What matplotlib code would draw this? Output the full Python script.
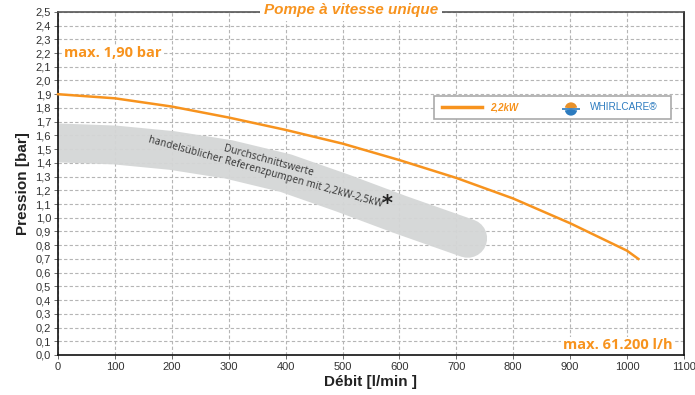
import numpy as np
import matplotlib.pyplot as plt
from matplotlib.patches import Rectangle, Wedge

# pump curve 2,2kW
flow = [0, 100, 200, 300, 400, 500, 600, 700, 800, 900, 1000, 1020]
pressure = [1.90, 1.87, 1.81, 1.73, 1.64, 1.54, 1.42, 1.29, 1.14, 0.96, 0.76, 0.70]

# average of reference pumps (band centre)
ref_flow = [0, 100, 200, 300, 400, 500, 600, 720]
ref_pressure = [1.545, 1.53, 1.49, 1.425, 1.325, 1.18, 1.025, 0.85]

xticks = np.arange(0, 1101, 100)
yticks = np.arange(0, 2.51, 0.1)
orange = '#f7931e'
W, H = 695, 395

fig = plt.figure(figsize=(6.95, 3.95), dpi=100)
ax = fig.add_axes([0.0835, 0.1013, 0.9005, 0.8687])
ax.set_xlim(0, 1100)
ax.set_ylim(0, 2.5)

ax.set_xticks(xticks)
ax.set_yticks(yticks)
ax.set_xticklabels([str(int(v)) for v in xticks], fontsize=8, color='#333333', family='Liberation Sans')
ax.set_yticklabels([('%.1f' % v).replace('.', ',') for v in yticks], fontsize=8, color='#333333', family='Liberation Sans')
ax.tick_params(length=3, width=0.6, color='#555555', pad=2)

ax.grid(True, linestyle=(0, (3, 2)), color='#b5b5b5', linewidth=0.8)
ax.set_axisbelow(True)
for s in ['left', 'bottom', 'right']:
    ax.spines[s].set_color('#111111')
    ax.spines[s].set_linewidth(1.2)
ax.spines['top'].set_color('#555555')
ax.spines['top'].set_linestyle((0, (3, 1)))
ax.spines['top'].set_linewidth(1.2)

# gray band
ax.plot(ref_flow, ref_pressure, color='#d4d6d6', linewidth=28, solid_capstyle='round',
        solid_joinstyle='round', alpha=0.95, zorder=2)
ax.text(367, 1.373, 'Durchschnittswerte\nhandelsüblicher Referenzpumpen mit 2,2kW-2,5kW',
        rotation=-15.5, rotation_mode='anchor', ha='center', va='center',
        fontsize=7.3, color='#333333', family='Open Sans', linespacing=1.1, zorder=3)
ax.text(578, 1.10, '*', fontsize=15, fontweight='bold', color='#222222',
        ha='center', va='center', zorder=3)

# pump curve
ax.plot(flow, pressure, color=orange, linewidth=1.8, zorder=4, clip_on=False)

# annotations
ax.text(10, 2.2, 'max. 1,90 bar', fontsize=10.5, fontweight='bold', color=orange,
        family='Open Sans', va='center', ha='left',
        bbox=dict(facecolor='white', edgecolor='none', pad=1))
ax.text(1080, 0.07, 'max. 61.200 l/h', fontsize=10.5, fontweight='bold', color=orange,
        family='Open Sans', va='center', ha='right',
        bbox=dict(facecolor='white', edgecolor='none', pad=1))

# title over top border
fig.text(0.505, 0.975, 'Pompe à vitesse unique', fontsize=11, fontweight='bold',
         style='italic', color=orange, family='Liberation Sans', ha='center', va='center',
         bbox=dict(facecolor='white', edgecolor='none', pad=3))

# legend box
ax.add_patch(Rectangle((660, 1.72), 418, 0.17, facecolor='white', edgecolor='#aaaaaa',
                       linewidth=1.2, zorder=5))
ax.plot([675, 745], [1.805, 1.805], color=orange, linewidth=2.5, zorder=6)
ax.text(760, 1.805, '2,2kW', fontsize=7, fontweight='bold', style='italic', color=orange,
        family='Liberation Sans', va='center', zorder=6)
ax.text(935, 1.805, 'WHIRLCARE®', fontsize=7.2, color='#2c7bbf', family='Liberation Sans',
        va='center', zorder=6)

# small logo
lax = fig.add_axes([562 / W, 1 - 116 / H, 18 / W, 14 / H])
lax.set_xlim(-1.3, 1.3)
lax.set_ylim(-1, 1)
lax.axis('off')
lax.add_patch(Wedge((0, 0.05), 0.9, 10, 170, facecolor='#e8912a', edgecolor='none'))
lax.add_patch(Wedge((0, -0.05), 0.9, 190, 350, facecolor='#2c7bbf', edgecolor='none'))
lax.plot([-1.25, 1.25], [0, 0], color='#2c7bbf', linewidth=1.2)

ax.set_xlabel('Débit [l/min ]', fontsize=11, fontweight='bold', color='#222222',
              family='Liberation Sans', labelpad=2)
ax.set_ylabel('Pression [bar]', fontsize=11, fontweight='bold', color='#222222',
              family='Liberation Sans', labelpad=4)

fig.savefig('out.png', dpi=100)
